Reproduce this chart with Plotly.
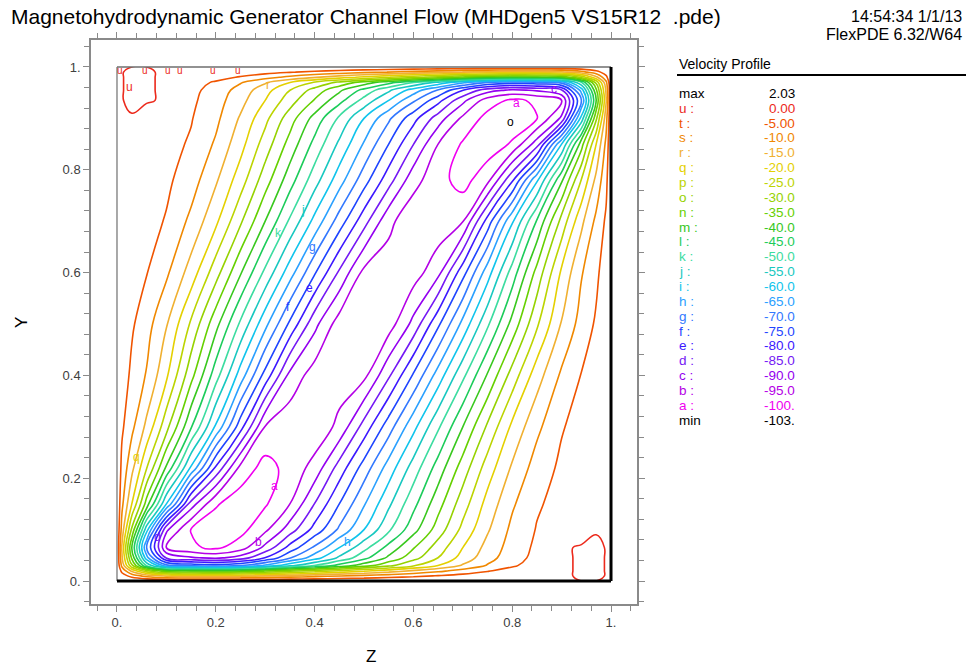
import plotly.graph_objects as go

# ---------------- data ----------------
# x nodes (Z) of the value table
X_NODES = [0, 0.01, 0.03, 0.06, 0.1, 0.15, 0.2, 0.25, 0.3, 0.35, 0.4, 0.45, 0.5,
           0.55, 0.6, 0.65, 0.7, 0.75, 0.8, 0.85, 0.9, 0.94, 0.97, 0.99, 1.0]
# y nodes (Y) of the core rows
Y_CORE = [0.065, 0.1, 0.15, 0.22, 0.3, 0.4, 0.5, 0.6, 0.7, 0.78, 0.85, 0.9, 0.935]

# estimated velocity values on each core row (one list per row)
ROW_065 = [0, -15.7, -40, -70, -95, -99.2, -101, -97.5, -88.6, -78.2, -69.1, -60, -51.7, -43.3, -35.4, -27.7, -20, -13.3, -7.8, -4.0, -0.4, 0.3, 1.0, -0.2, 0]
ROW_100 = [0, -12, -30.9, -58.2, -89, -100.2, -103, -101.7, -96.1, -87.5, -78.2, -69.1, -60, -50.9, -41.8, -32.7, -23.6, -15.6, -8.8, -4.7, -3.1, -1.5, -0.4, -0.1, 0]
ROW_150 = [0, -8.8, -20, -37.1, -60, -87.5, -99.4, -103, -100.6, -95, -84.9, -75.0, -65.5, -56.0, -46.5, -36.9, -27.3, -18.2, -10.7, -5.6, -3.3, -2.0, -1.0, -0.3, 0]
ROW_220 = [0, -6.4, -13.6, -24.8, -40.8, -60.8, -80.8, -96.6, -102, -98.2, -93.2, -82.9, -72.8, -62.8, -52.8, -42.8, -32.7, -22.6, -14.3, -7.7, -4.0, -2.4, -1.2, -0.4, 0]
ROW_300 = [0, -4.2, -8.8, -16.2, -28.2, -44.5, -60.7, -77.9, -95.3, -98.5, -98.5, -93.7, -83, -72.3, -61.5, -50.8, -40, -29.2, -18.9, -11.2, -5.4, -3.1, -1.6, -0.5, 0]
ROW_400 = [0, -2.3, -6.1, -10.4, -19.1, -33.3, -47.8, -62.3, -76.8, -91.5, -97.5, -97.5, -96.4, -85.8, -74.4, -62.8, -51.2, -39.5, -27.9, -17.2, -9.1, -4.8, -2.4, -0.8, 0]
ROW_500 = [0, -1.4, -4.3, -8.0, -14.6, -25.8, -38.3, -50.9, -63.5, -76, -88.5, -97.5, -97.5, -97.5, -88.5, -76, -63.5, -50.9, -38.3, -25.8, -14.6, -8.0, -4.3, -1.4, 0]
ROW_600 = [0, -0.8, -2.4, -4.8, -9.1, -17.2, -27.9, -39.5, -51.2, -62.8, -74.4, -85.8, -96.4, -97.5, -97.5, -91.5, -76.8, -62.3, -47.8, -33.3, -19.1, -10.4, -6.1, -2.3, 0]
ROW_700 = [0, -0.5, -1.6, -3.1, -5.4, -11.2, -18.9, -29.2, -40, -50.8, -61.5, -72.3, -83, -93.7, -98.5, -98.5, -95.3, -77.9, -60.7, -44.5, -28.2, -16.2, -8.8, -4.2, 0]
ROW_780 = [0, -0.4, -1.2, -2.4, -4.0, -7.7, -14.3, -22.6, -32.7, -42.8, -52.8, -62.8, -72.8, -82.9, -93.2, -98.2, -102, -96.6, -80.8, -60.8, -40.8, -24.8, -13.6, -6.4, 0]
ROW_850 = [0, -0.3, -1.0, -2.0, -3.3, -5.6, -10.7, -18.2, -27.3, -36.9, -46.5, -56.0, -65.5, -75.0, -84.9, -95, -100.6, -103, -99.4, -87.5, -60, -37.1, -20, -8.8, 0]
ROW_900 = [0, -0.1, -0.4, -1.5, -3.1, -4.7, -8.8, -15.6, -23.6, -32.7, -41.8, -50.9, -60, -69.1, -78.2, -87.5, -96.1, -101.7, -103, -100.2, -89, -58.2, -30.9, -12, 0]
ROW_935 = [0, -0.2, 1.0, 0.3, -0.4, -4.0, -7.8, -13.3, -20, -27.7, -35.4, -43.3, -51.7, -60, -69.1, -78.2, -88.6, -97.5, -101, -99.2, -95, -70, -40, -15.7, 0]

# thin wall (Hartmann) layers at Y=0 and Y=1: depth from the wall and fraction of the edge-row value
WALL_DEPTH = [0.0, 0.01, 0.02, 0.03, 0.045]
WALL_FRAC = [0.0, 0.17, 0.41, 0.72, 0.90]

# contour levels (legend)
LEVEL_LETTERS = ["u", "t", "s", "r", "q", "p", "o", "n", "m", "l", "k",
                 "j", "i", "h", "g", "f", "e", "d", "c", "b", "a"]
LEVEL_VALUES = [0, -5, -10, -15, -20, -25, -30, -35, -40, -45, -50,
                -55, -60, -65, -70, -75, -80, -85, -90, -95, -100]
LEVEL_COLORS = ["#ec2a1c", "#f05400", "#f08800", "#f0b030", "#e4d000", "#bcd400",
                "#96d200", "#66d000", "#38c81e", "#1ccc5a", "#3cdca0", "#18c8c0",
                "#10c4ec", "#2aa0ff", "#3278ff", "#1e44ff", "#3c18ff", "#7418f4",
                "#9400f0", "#b400e6", "#f000f0"]
MAX_VALUE = 2.03
MIN_VALUE = -103

# ---------------- build the table for plotly ----------------
core_rows = [ROW_065, ROW_100, ROW_150, ROW_220, ROW_300, ROW_400, ROW_500,
             ROW_600, ROW_700, ROW_780, ROW_850, ROW_900, ROW_935]
y_nodes = list(WALL_DEPTH) + list(Y_CORE) + [round(1 - d, 4) for d in reversed(WALL_DEPTH)]
z_rows = ([[f * v for v in ROW_065] for f in WALL_FRAC] + core_rows +
          [[f * v for v in ROW_935] for f in reversed(WALL_FRAC)])

zmin, zmax = min(LEVEL_VALUES), max(LEVEL_VALUES)
pairs = sorted(zip(LEVEL_VALUES, LEVEL_COLORS))
colorscale = [[(v - zmin) / (zmax - zmin), c] for v, c in pairs]

FONT = "Liberation Sans, Arial, sans-serif"

fig = go.Figure()
fig.add_trace(go.Contour(
    x=X_NODES, y=y_nodes, z=z_rows,
    zmin=zmin, zmax=zmax, zauto=False,
    colorscale=colorscale, showscale=False,
    contours=dict(start=zmin, end=zmax, size=5, coloring="lines"),
    line=dict(width=1.6, smoothing=1.2),
    hoverinfo="skip",
))

# page geometry (pixels of the 968x666 page)
W, H = 968, 666
L, T, R, B = 91, 40, 968 - 637, 666 - 604
PW, PH = W - L - R, H - T - B


def px(xp):
    return (xp - L) / PW


def py(yp):
    return (H - B - yp) / PH


annotations = []
# header texts
annotations.append(dict(text="Magnetohydrodynamic Generator Channel Flow (MHDgen5 VS15R12  .pde)",
                        x=px(9), y=py(17), xref="paper", yref="paper", xanchor="left", yanchor="middle",
                        showarrow=False, font=dict(family=FONT, size=21, color="#000000")))
annotations.append(dict(text="14:54:34 1/1/13", x=px(964), y=py(16.5), xref="paper", yref="paper",
                        xanchor="right", yanchor="middle", showarrow=False,
                        font=dict(family=FONT, size=16, color="#000000")))
annotations.append(dict(text="FlexPDE 6.32/W64", x=px(964), y=py(35), xref="paper", yref="paper",
                        xanchor="right", yanchor="middle", showarrow=False,
                        font=dict(family=FONT, size=16, color="#000000")))
# legend
annotations.append(dict(text="Velocity Profile", x=px(677), y=py(64), xref="paper", yref="paper",
                        xanchor="left", yanchor="middle", showarrow=False,
                        font=dict(family=FONT, size=14, color="#000000")))


def fmt(v):
    a = abs(v)
    if a < 10:
        return f"{v:.2f}"
    if a < 100:
        return f"{v:.1f}"
    return f"{v:.0f}."


entries = [("max", MAX_VALUE, "#000000")]
entries += [(f"{l} :", v, c) for l, v, c in zip(LEVEL_LETTERS, LEVEL_VALUES, LEVEL_COLORS)]
entries += [("min", MIN_VALUE, "#000000")]
for i, (lab, val, col) in enumerate(entries):
    yy = 93.3 + i * 14.86
    annotations.append(dict(text=lab, x=px(677), y=py(yy), xref="paper", yref="paper",
                            xanchor="left", yanchor="middle", showarrow=False,
                            font=dict(family=FONT, size=13.5, color=col)))
    annotations.append(dict(text=fmt(val), x=px(797), y=py(yy), xref="paper", yref="paper",
                            xanchor="right", yanchor="middle", showarrow=False,
                            font=dict(family=FONT, size=13.5, color=col)))

# axis titles
annotations.append(dict(text="Z", x=px(371), y=py(656), xref="paper", yref="paper",
                        xanchor="center", yanchor="middle", showarrow=False,
                        font=dict(family=FONT, size=17, color="#000000")))
annotations.append(dict(text="Y", x=px(21), y=py(323), xref="paper", yref="paper",
                        xanchor="center", yanchor="middle", showarrow=False, textangle=-90,
                        font=dict(family=FONT, size=17, color="#000000")))

# contour labels
color_of = dict(zip(LEVEL_LETTERS, LEVEL_COLORS))
CONTOUR_TAGS = [("u", 0.026, 0.962), ("r", 0.306, 0.965), ("j", 0.377, 0.722), ("k", 0.326, 0.677),
                ("g", 0.395, 0.650), ("e", 0.389, 0.570), ("f", 0.346, 0.533), ("q", 0.040, 0.241),
                ("d", 0.081, 0.086), ("b", 0.287, 0.076), ("a", 0.318, 0.185), ("h", 0.466, 0.076),
                ("a", 0.808, 0.930), ("c", 0.885, 0.957)]
for lab, xx, yy in CONTOUR_TAGS:
    annotations.append(dict(text=lab, x=xx, y=yy, xref="x", yref="y", showarrow=False,
                            xanchor="center", yanchor="middle",
                            font=dict(family=FONT, size=12, color=color_of[lab])))
for xx in [0.006, 0.057, 0.103, 0.128, 0.195, 0.245]:
    annotations.append(dict(text="u", x=xx, y=0.993, xref="x", yref="y", showarrow=False,
                            xanchor="center", yanchor="middle",
                            font=dict(family=FONT, size=10, color=color_of["u"])))
annotations.append(dict(text="o", x=0.796, y=0.893, xref="x", yref="y", showarrow=False,
                        xanchor="center", yanchor="middle",
                        font=dict(family=FONT, size=12, color="#000000")))

shapes = [
    dict(type="line", xref="paper", yref="paper", x0=px(677), x1=px(966), y0=py(75), y1=py(75),
         line=dict(color="#000000", width=2)),
    dict(type="line", xref="x", yref="y", x0=0, x1=0, y0=0, y1=1, line=dict(color="#8c8c8c", width=1.5), layer="above"),
    dict(type="line", xref="x", yref="y", x0=0, x1=1, y0=1, y1=1, line=dict(color="#6e6e6e", width=1.5), layer="above"),
    dict(type="line", xref="x", yref="y", x0=0, x1=1, y0=0, y1=0, line=dict(color="#000000", width=3), layer="above"),
    dict(type="line", xref="x", yref="y", x0=1, x1=1, y0=0, y1=1, line=dict(color="#000000", width=3), layer="above"),
]

axis_common = dict(
    showgrid=False, zeroline=False, showline=True, linecolor="#8a8a8a", linewidth=1.5,
    mirror="ticks", ticks="outside", ticklen=6, tickwidth=1, tickcolor="#8a8a8a",
    tickfont=dict(family=FONT, size=13, color="#404040"),
    minor=dict(ticks="outside", dtick=0.04, tick0=0, ticklen=5, tickwidth=1, tickcolor="#8a8a8a", showgrid=False),
    tickvals=[0, 0.2, 0.4, 0.6, 0.8, 1.0],
    ticktext=["0.", "0.2", "0.4", "0.6", "0.8", "1."],
)

fig.update_layout(
    width=W, height=H,
    margin=dict(l=L, r=R, t=T, b=B, pad=0),
    paper_bgcolor="white", plot_bgcolor="white",
    xaxis=dict(range=[-0.0526, 1.0526], **axis_common),
    yaxis=dict(range=[-0.0447, 1.0525], **axis_common),
    annotations=annotations, shapes=shapes,
    showlegend=False,
)

# remove the browser's default 8px page margin so the figure fills the 968x666 window
fig.write_html("out.html",
               config={"displayModeBar": False},
               post_script="document.body.style.margin='0';document.documentElement.style.overflow='hidden';")
